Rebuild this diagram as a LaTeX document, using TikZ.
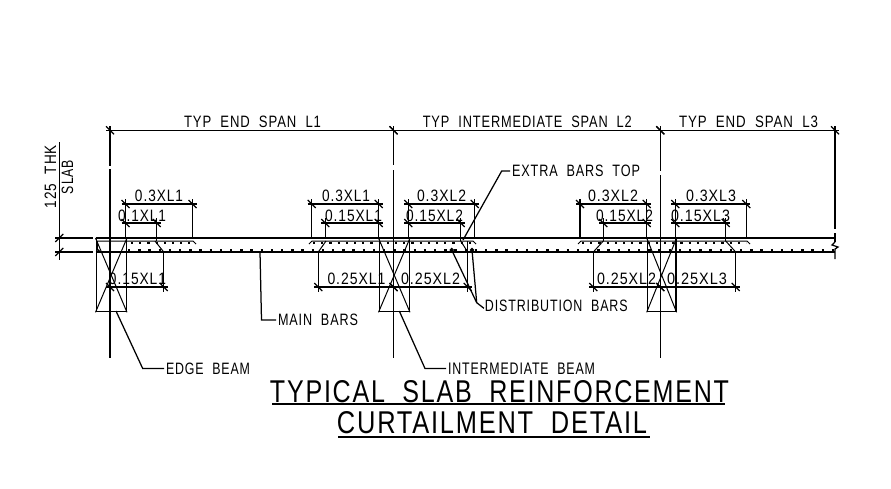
\documentclass[tikz,border=0pt]{standalone}
\usepackage{fontspec}
\usepackage{graphicx}
\setmainfont[LetterSpace=7]{Liberation Sans}
\tikzset{
  lbl/.style={inner sep=0pt,outer sep=0pt,anchor=center,text=black},
  ln/.style={line width=1.25pt,black},
  heavy/.style={line width=2.2pt,black},
  thin line/.style={line width=1pt,black},
  dotsA/.style={line width=2.2pt,black,dash pattern=on 2.2pt off 6pt},
  dotsB/.style={line width=2.6pt,black,dash pattern=on 2.4pt off 7.8pt},
}
% label: name, cx, cy, width, height, text
\newcommand\tlabel[6]{\node[lbl] (#1) at (#2,#3) {\resizebox{#4pt}{#5pt}{#6}};}
% horizontal dimension: name, x1, x2, y
\newcommand\hdimen[4]{%
  \coordinate (#1a) at (#2,#4);\coordinate (#1b) at (#3,#4);
  \draw[ln] ([xshift=-4pt]#1a) -- ([xshift=4pt]#1b);
  \draw[ln] ([shift={(-4pt,4pt)}]#1a) -- ([shift={(4pt,-4pt)}]#1a);
  \draw[ln] ([shift={(-4pt,4pt)}]#1b) -- ([shift={(4pt,-4pt)}]#1b);}
% vertical extension: x, y1, y2
\newcommand\vext[3]{\draw[ln] (#1,#2) -- (#1,#3);}
% beam: name, x1, x2
\newcommand\beam[3]{%
  \node[draw,line width=1.3pt,inner sep=0pt,minimum width=#3pt-#2pt,minimum height=73pt,anchor=north west] (#1) at (#2,238) {};
  \draw[thin line] (#1.north west) -- (#1.south east);
  \draw[thin line] (#1.north east) -- (#1.south west);}
\begin{document}
\begin{tikzpicture}[x=1pt,y=-1pt]
\useasboundingbox (0,0) rectangle (891,488);
\fill[white] (0,0) rectangle (891,488);
% slab
\draw[ln] (95.5,238) -- (835,238);
\draw[heavy] (125.7,252) -- (835,252);
\draw[ln] (55,238) -- (93,238);
\draw[ln] (55,252) -- (93,252);
\draw[ln] (95.5,252) -- (125.7,252);
\draw[line width=1.6pt] (97,241) -- (97,249) -- (100,252);
% beams
\beam{beamA}{95.5}{125.7}
\beam{beamB}{378.5}{408.7}
\beam{beamC}{646.7}{675.3}
% main grid lines
\vext{110}{126}{166}\vext{110}{169}{358}
\vext{393.5}{126}{165}\vext{393.5}{170}{358}
\vext{660.3}{126}{171}\vext{660.3}{175}{358}
\vext{835}{126}{229}\vext{835}{233}{242}
\draw[ln] (835,242) -- (832,245) -- (838,247) -- (835,249) -- (835,259);
\hdimen{spanA}{110}{393.5}{130.3}
\hdimen{spanB}{393.5}{660.3}{130.3}
\hdimen{spanC}{660.3}{835}{130.3}
% slab thickness
\draw[ln] (59.3,142) -- (59.3,260);
\draw[ln] (55.3,242) -- (63.3,234);
\draw[ln] (55.3,256) -- (63.3,248);
% top bars
\draw[thin line] (96,241) -- (193,241) -- (196,244);
\draw[thin line] (309,244) -- (312,241) -- (473,241) -- (476,244);
\draw[thin line] (578,244) -- (581,241) -- (747,241) -- (750,244);
\draw[dotsA] (131,243) -- (190,243);
\draw[dotsA] (313,243) -- (474,243);
\draw[dotsA] (582,243) -- (746,243);
\draw[dotsB] (128,250) -- (835,250);
% bends of the extra bars
\draw[thin line] (155,241) -- (163.7,252);
\draw[thin line] (326,241) -- (318.3,252);
\draw[thin line] (460.7,241) -- (467.7,252);
\draw[thin line] (603.3,241) -- (593.3,252);
\draw[thin line] (725.7,241) -- (735.7,252);
% top dimensions
\hdimen{a}{125.5}{192.5}{204}\hdimen{b}{125.5}{156.7}{223}
\vext{125.5}{199}{238}\vext{192.5}{199}{238}\vext{156.7}{218}{241}
\hdimen{c}{311.7}{378.7}{204}\hdimen{d}{325.3}{378.7}{223}
\vext{311.7}{199}{238}\vext{378.7}{199}{238}\vext{325.3}{218}{238}
\hdimen{e}{408.3}{474.7}{204}\hdimen{f}{408.3}{460.7}{223}
\vext{408.3}{199}{238}\vext{474.7}{199}{238}\vext{460.7}{218}{241}
\hdimen{g}{580}{646.7}{204}\hdimen{h}{603.3}{646.7}{223}
\vext{580}{199}{238}\vext{646.7}{199}{238}\vext{603.3}{218}{241}
\hdimen{i}{675.3}{746.3}{204}\hdimen{j}{675.3}{725.7}{223}
\vext{675.3}{199}{238}\vext{746.3}{199}{238}\vext{725.7}{218}{241}
% bottom dimensions
\hdimen{k}{110}{163.7}{287}\vext{163.7}{252}{292}
\hdimen{l}{318.3}{393.5}{287}\vext{318.3}{252}{292}
\hdimen{m}{393.5}{467.7}{287}\vext{467.7}{241}{292}
\hdimen{n}{593.3}{660.3}{287}\vext{593.3}{252}{292}
\hdimen{o}{660.3}{735.7}{287}\vext{735.7}{252}{292}
% distribution bars
\draw[line width=.9pt,fill=black] (451.7,250) circle (1.7pt);
\draw[line width=.9pt,fill=black] (472,250) circle (1.7pt);
% labels
\tlabel{tA}{252.5}{121.5}{137}{11.5}{TYP\ \ END\ \ SPAN\ \ L1}
\tlabel{tB}{527.3}{121.5}{209}{11.5}{TYP\ \ INTERMEDIATE\ \ SPAN\ \ L2}
\tlabel{tC}{748.5}{121.5}{139}{11.5}{TYP\ \ END\ \ SPAN\ \ L3}
\tlabel{extra}{576}{171}{128}{11.5}{EXTRA\ \ BARS\ \ TOP}
\tlabel{d1}{159}{196}{48}{11.5}{0.3XL1}
\tlabel{d2}{142}{215.5}{48}{11.5}{0.1XL1}
\tlabel{d3}{346}{196}{48}{11.5}{0.3XL1}
\tlabel{d4}{353.5}{215.5}{57}{11.5}{0.15XL1}
\tlabel{d5}{441.5}{196}{49}{11.5}{0.3XL2}
\tlabel{d6}{434.5}{215.5}{57}{11.5}{0.15XL2}
\tlabel{d7}{613}{196}{50}{11.5}{0.3XL2}
\tlabel{d8}{624.5}{215.5}{57}{11.5}{0.15XL2}
\tlabel{d9}{711}{196}{50}{11.5}{0.3XL3}
\tlabel{d10}{700.5}{215.5}{59}{11.5}{0.15XL3}
\tlabel{d11}{137.5}{278.5}{57}{11.5}{0.15XL1}
\tlabel{d12}{356.5}{278.5}{58}{11.5}{0.25XL1}
\tlabel{d13}{430.5}{278.5}{59}{11.5}{0.25XL2}
\tlabel{d14}{626.5}{278.5}{59}{11.5}{0.25XL2}
\tlabel{d15}{697}{278.5}{60}{11.5}{0.25XL3}
\tlabel{dist}{556.3}{305.5}{142.7}{11.5}{DISTRIBUTION\ \ BARS}
\tlabel{main}{318}{320}{80}{11.5}{MAIN\ \ BARS}
\tlabel{edge}{208}{368.5}{84}{11.5}{EDGE\ \ BEAM}
\tlabel{inter}{521.5}{368.5}{147}{11.5}{INTERMEDIATE\ \ BEAM}
\node[lbl,rotate=90] (thk) at (50.5,176.5) {\resizebox{63pt}{11.5pt}{125\ \ THK}};
\node[lbl,rotate=90] (slab) at (67.5,177) {\resizebox{34pt}{11.5pt}{SLAB}};
\tlabel{titleA}{499.5}{391.5}{459}{22}{TYPICAL\ \ SLAB\ \ REINFORCEMENT}
\tlabel{titleB}{492}{423}{310}{22}{CURTAILMENT\ \ DETAIL}
% title underlines
\draw[line width=1.8pt] (272,404) -- (725,404);
\draw[line width=1.8pt] (338,436.7) -- (650,436.7);
% leaders
\coordinate (pEdge) at (116,311);
\coordinate (pInter) at (399.3,311);
\coordinate (pMain) at (260,252);
\coordinate (pExtra) at (463,240);
\coordinate (pDistA) at (451.7,250);
\coordinate (pDistB) at (472,250);
\coordinate (kDist) at (476.7,302.7);
\draw[ln] (pEdge) -- (142.7,368.5) -- ([xshift=-2pt]edge.west);
\draw[ln] (pInter) -- (425,368.5) -- ([xshift=-2pt]inter.west);
\draw[ln] (pMain) -- (261.5,320) -- ([xshift=-2pt]main.west);
\draw[ln] (pExtra) -- (501.7,171) -- ([xshift=-2pt]extra.west);
\draw[ln] (pDistA) -- (kDist);
\draw[ln] (pDistB) -- (kDist) -- ([shift={(-1pt,-2.8pt)}]dist.west);
\end{tikzpicture}
\end{document}
